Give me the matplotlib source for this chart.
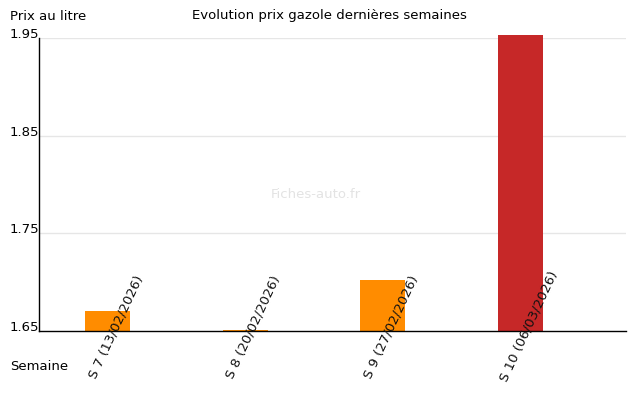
import matplotlib
matplotlib.use("Agg")
import matplotlib.pyplot as plt

categories = ["S 7 (13/02/2026)", "S 8 (20/02/2026)", "S 9 (27/02/2026)", "S 10 (06/03/2026)"]
prices = [1.670, 1.651, 1.702, 1.953]
colors = ["#FF8C00", "#FF8C00", "#FF8C00", "#C62828"]
yticks = [1.65, 1.75, 1.85, 1.95]
ytick_labels = ["1.65", "1.75", "1.85", "1.95"]

plt.rcParams['font.family'] = ['DejaVu Sans']
FS = 9.5
fig = plt.figure(figsize=(6.4, 4.0), dpi=100)
ax = fig.add_axes([39/640, 1 - 331/400, (626-39)/640, (331-38)/400])

x = list(range(len(categories)))
base = 1.65
bars = ax.bar(x, [p - base for p in prices], bottom=base, width=0.327, color=colors, zorder=2)
for b in bars:
    b.set_clip_on(False)
ax.set_ylim(1.65, 1.95)
ax.set_xlim(-0.5, 3.77)

for t in yticks[1:]:
    ax.axhline(t, color="#e6e6e6", lw=1, zorder=1)

ax.set_yticks(yticks)
ax.set_yticklabels(ytick_labels, fontsize=FS)
ax.tick_params(axis='y', length=0, pad=0)
for lbl in ax.get_yticklabels():
    lbl.set_verticalalignment('baseline')
ax.set_xticks([])
for s in ["top", "right"]:
    ax.spines[s].set_visible(False)
ax.spines["left"].set_linewidth(1)
ax.spines["bottom"].set_linewidth(1)

for i, c in enumerate(categories):
    ax.annotate(c, xy=(i, base), xytext=(6, 3), textcoords="offset points",
                rotation=65, ha="center", va="center", rotation_mode="anchor",
                fontsize=FS, color="#111111", annotation_clip=False, zorder=3)

fig.text(10/640, 1 - 16/400, "Prix au litre", fontsize=FS, va="center", ha="left")
fig.text(329/640, 1 - 16/400, "Evolution prix gazole dernières semaines", fontsize=FS, va="center", ha="center")
fig.text(10/640, 1 - 366/400, "Semaine", fontsize=FS, va="center", ha="left")
fig.text(316/640, 1 - 194/400, "Fiches-auto.fr", fontsize=FS, va="center", ha="center", color="#e3e3e3")

fig.savefig("out.png", dpi=100)
